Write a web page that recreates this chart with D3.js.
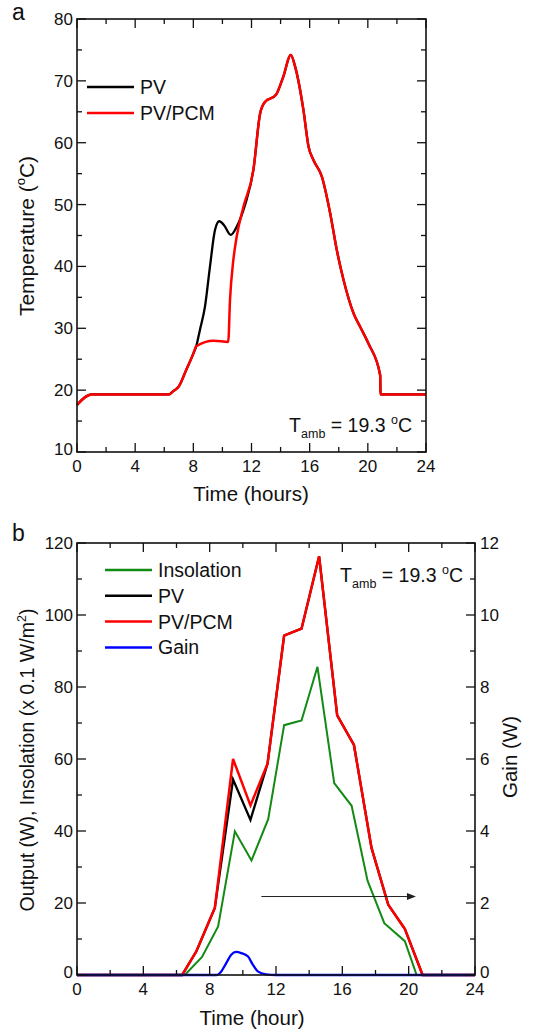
<!DOCTYPE html>
<html>
<head>
<meta charset="utf-8">
<script src="https://cdn.jsdelivr.net/npm/d3@7"></script>
<style>
  body { margin: 0; background: #fff; }
  text { font-family: "Liberation Sans", Arial, sans-serif; fill: #111; }
</style>
</head>
<body>
<div id="chart"></div>
<script>
// ---- panel a: temperature ----
const tPCM_a = [0, 1, 6.3, 6.6, 7, 7.5, 8, 8.2, 9.4, 10.4, 10.52, 10.75, 10.98, 11.44, 12.13, 12.59, 12.93, 13.67, 14.19, 14.7, 15.0, 15.57, 15.92, 16.26, 16.84, 17.41, 17.87, 18.33, 19.02, 19.48, 20.05, 20.85, 20.87, 24];
const pcm_a  = [17.6, 19.3, 19.3, 19.8, 20.6, 23.2, 25.9, 27.1, 28.0, 27.8, 34.5, 41, 44.8, 49.6, 55.6, 64.7, 66.6, 67.7, 70.7, 74.2, 72.3, 65.3, 59.4, 57.2, 54.5, 48.6, 42.6, 37.8, 32.4, 30.2, 27.5, 22.4, 19.3, 19.3];
const tPV_a  = [0, 1, 6.3, 6.6, 7, 7.5, 8, 8.2, 8.45, 8.8, 9.14, 9.49, 9.78, 10.1, 10.57, 10.98, 11.55, 12.13, 12.59, 12.93, 13.67, 14.19, 14.7, 15.0, 15.57, 15.92, 16.26, 16.84, 17.41, 17.87, 18.33, 19.02, 19.48, 20.05, 20.85, 20.87, 24];
const pv_a   = [17.6, 19.3, 19.3, 19.8, 20.6, 23.2, 25.9, 27.1, 29.7, 33.5, 39.9, 45.9, 47.3, 46.7, 45.1, 46.4, 49.9, 55.6, 64.7, 66.6, 67.7, 70.7, 74.2, 72.3, 65.3, 59.4, 57.2, 54.5, 48.6, 42.6, 37.8, 32.4, 30.2, 27.5, 22.4, 19.3, 19.3];

// ---- panel b: output, insolation, gain ----
const tOut_b = [0, 6.34, 7.2, 8.31, 9.41, 10.46, 11.49, 12.49, 13.54, 14.6, 15.69, 16.7, 17.76, 18.77, 19.77, 20.84, 24];
const pcm_b  = [0, 0, 6.6, 18.6, 60.0, 47.1, 58.7, 94.3, 96.2, 116.3, 72.1, 63.9, 35.3, 19.5, 12.8, 0, 0];
const pv_b   = [0, 0, 6.6, 18.6, 54.3, 43.1, 58.7, 94.3, 96.2, 116.3, 72.1, 63.9, 35.3, 19.5, 12.8, 0, 0];
const tIns_b = [0, 6.5, 7.54, 8.51, 9.52, 10.52, 11.53, 12.49, 13.54, 14.5, 15.51, 16.56, 17.52, 18.53, 19.77, 20.48, 24];
const ins_b  = [0, 0, 5.0, 13.5, 39.9, 31.8, 43.3, 69.4, 70.7, 85.6, 53.3, 47.0, 26.2, 14.4, 9.4, 0, 0];
const tGain_b = [0, 8.4, 8.7, 9.0, 9.3, 9.6, 9.9, 10.3, 10.6, 10.9, 11.4, 12, 24];
const gain_b  = [0, 0, 0.1, 0.33, 0.56, 0.64, 0.61, 0.52, 0.29, 0.1, 0.02, 0, 0];

const xTicks = [0, 4, 8, 12, 16, 20, 24];
const legendA = [["PV", "#000"], ["PV/PCM", "#ff0000"]];
const legendB = [["Insolation", "#138a13"], ["PV", "#000"], ["PV/PCM", "#ff0000"], ["Gain", "#0000ff"]];

const svg = d3.select("#chart").append("svg")
  .attr("width", 545).attr("height", 1031);

const zip = (xs, ys) => xs.map((x, i) => [x, ys[i]]);

function frame(g, x, y, yMajor, yMinor) {
  const [x0, x1] = x.range();
  const [y0, y1] = y.range();
  const L = 9, l = 5;
  // ticks on all four sides, pointing inward
  d3.range(0, 25, 2).forEach(v => {
    const len = v % 4 === 0 ? L : l;
    g.append("line").attr("x1", x(v)).attr("x2", x(v)).attr("y1", y0).attr("y2", y0 - len).attr("stroke", "#111").attr("stroke-width", 1.3);
    g.append("line").attr("x1", x(v)).attr("x2", x(v)).attr("y1", y1).attr("y2", y1 + len).attr("stroke", "#111").attr("stroke-width", 1.3);
  });
  const yd = y.domain();
  d3.range(yd[0], yd[1] + 0.001, yMinor).forEach(v => {
    const major = Math.abs((v - yd[0]) % yMajor) < 1e-6;
    const len = major ? L : l;
    g.append("line").attr("x1", x0).attr("x2", x0 + len).attr("y1", y(v)).attr("y2", y(v)).attr("stroke", "#111").attr("stroke-width", 1.3);
    g.append("line").attr("x1", x1).attr("x2", x1 - len).attr("y1", y(v)).attr("y2", y(v)).attr("stroke", "#111").attr("stroke-width", 1.3);
  });
  g.append("rect").attr("x", x0).attr("y", y1).attr("width", x1 - x0).attr("height", y0 - y1)
    .attr("fill", "none").attr("stroke", "#111").attr("stroke-width", 1.6);
  xTicks.forEach(v => {
    g.append("text").attr("x", x(v)).attr("y", y0 + 20).attr("text-anchor", "middle")
      .attr("font-size", 17).text(v);
  });
  d3.range(yd[0], yd[1] + 0.001, yMajor).forEach(v => {
    g.append("text").attr("x", x0 - 4).attr("y", y(v) + 6 - (v === yd[0] ? 3 : 0)).attr("text-anchor", "end")
      .attr("font-size", 17).text(v);
  });
}

function tamb(g, xr, yb) {
  const t = g.append("text").attr("x", xr).attr("y", yb).attr("text-anchor", "end").attr("font-size", 19.5);
  t.append("tspan").text("T");
  t.append("tspan").attr("font-size", 12.5).attr("dy", 6).text("amb");
  t.append("tspan").attr("dy", -6).text(" = 19.3 ");
  t.append("tspan").attr("font-size", 12.5).attr("dy", -8).text("o");
  t.append("tspan").attr("dy", 8).text("C");
}

// ===== panel a =====
{
  const g = svg.append("g");
  const x = d3.scaleLinear().domain([0, 24]).range([77, 426]);
  const y = d3.scaleLinear().domain([10, 80]).range([452, 19]);
  const line = d3.line().x(d => x(d[0])).y(d => y(d[1])).curve(d3.curveMonotoneX);

  g.append("path").attr("d", line(zip(tPV_a, pv_a))).attr("fill", "none").attr("stroke", "#000").attr("stroke-width", 2.3);
  g.append("path").attr("d", line(zip(tPCM_a, pcm_a))).attr("fill", "none").attr("stroke", "#ff0000").attr("stroke-width", 2.5);

  frame(g, x, y, 10, 5);

  legendA.forEach((d, i) => {
    const yy = 87 + i * 26;
    g.append("line").attr("x1", 87).attr("x2", 134).attr("y1", yy).attr("y2", yy).attr("stroke", d[1]).attr("stroke-width", 2.5);
    g.append("text").attr("x", 140).attr("y", yy + 7).attr("font-size", 19.5).text(d[0]);
  });

  tamb(g, 412, 432);

  g.append("text").attr("x", 251).attr("y", 501).attr("text-anchor", "middle").attr("font-size", 20.5).text("Time (hours)");
  const yl = g.append("text").attr("transform", "translate(34,236) rotate(-90)").attr("text-anchor", "middle").attr("font-size", 21);
  yl.append("tspan").text("Temperature (");
  yl.append("tspan").attr("font-size", 13).attr("dy", -9).text("o");
  yl.append("tspan").attr("dy", 9).text("C)");

  svg.append("text").attr("x", 12).attr("y", 20).attr("font-size", 23).text("a");
}

// ===== panel b =====
{
  const g = svg.append("g");
  const x = d3.scaleLinear().domain([0, 24]).range([77, 475]);
  const y = d3.scaleLinear().domain([0, 120]).range([975, 543]);
  const y2 = d3.scaleLinear().domain([0, 12]).range([975, 543]);
  const lin = d3.line().x(d => x(d[0])).y(d => y(d[1]));
  const gl = d3.line().x(d => x(d[0])).y(d => y2(d[1])).curve(d3.curveMonotoneX);

  g.append("path").attr("d", lin(zip(tIns_b, ins_b))).attr("fill", "none").attr("stroke", "#138a13").attr("stroke-width", 2);
  g.append("path").attr("d", lin(zip(tOut_b, pv_b))).attr("fill", "none").attr("stroke", "#000").attr("stroke-width", 2.3);
  g.append("path").attr("d", lin(zip(tOut_b, pcm_b))).attr("fill", "none").attr("stroke", "#ff0000").attr("stroke-width", 2.5);
  g.append("path").attr("d", gl(zip(tGain_b, gain_b))).attr("fill", "none").attr("stroke", "#0000ff").attr("stroke-width", 2.3);

  frame(g, x, y, 20, 10);

  // right axis labels
  d3.range(0, 12.001, 2).forEach(v => {
    g.append("text").attr("x", 480).attr("y", y2(v) + 6 - (v === 0 ? 3 : 0)).attr("font-size", 17).text(v);
  });

  // arrow pointing to the right axis
  const ay = y(21.8);
  g.append("line").attr("x1", x(11.12)).attr("x2", x(20.2)).attr("y1", ay).attr("y2", ay).attr("stroke", "#222").attr("stroke-width", 1);
  g.append("path").attr("d", `M${x(20.44)},${ay} l-9,-3.5 l0,7 z`).attr("fill", "#222");

  legendB.forEach((d, i) => {
    const yy = 570 + i * 25.8;
    g.append("line").attr("x1", 105).attr("x2", 152).attr("y1", yy).attr("y2", yy).attr("stroke", d[1]).attr("stroke-width", 2.5);
    g.append("text").attr("x", 158).attr("y", yy + 7).attr("font-size", 19.5).text(d[0]);
  });

  tamb(g, 463, 582);

  g.append("text").attr("x", 252).attr("y", 1025).attr("text-anchor", "middle").attr("font-size", 20.5).text("Time (hour)");
  const yl = g.append("text").attr("transform", "translate(34,760) rotate(-90)").attr("text-anchor", "middle").attr("font-size", 19.5);
  yl.append("tspan").text("Output (W), Insolation (x 0.1 W/m");
  yl.append("tspan").attr("font-size", 12.5).attr("dy", -8).text("2");
  yl.append("tspan").attr("dy", 8).text(")");
  g.append("text").attr("transform", "translate(517,757) rotate(-90)").attr("text-anchor", "middle").attr("font-size", 20.5).text("Gain (W)");

  svg.append("text").attr("x", 12).attr("y", 541).attr("font-size", 23).text("b");
}
</script>
</body>
</html>
